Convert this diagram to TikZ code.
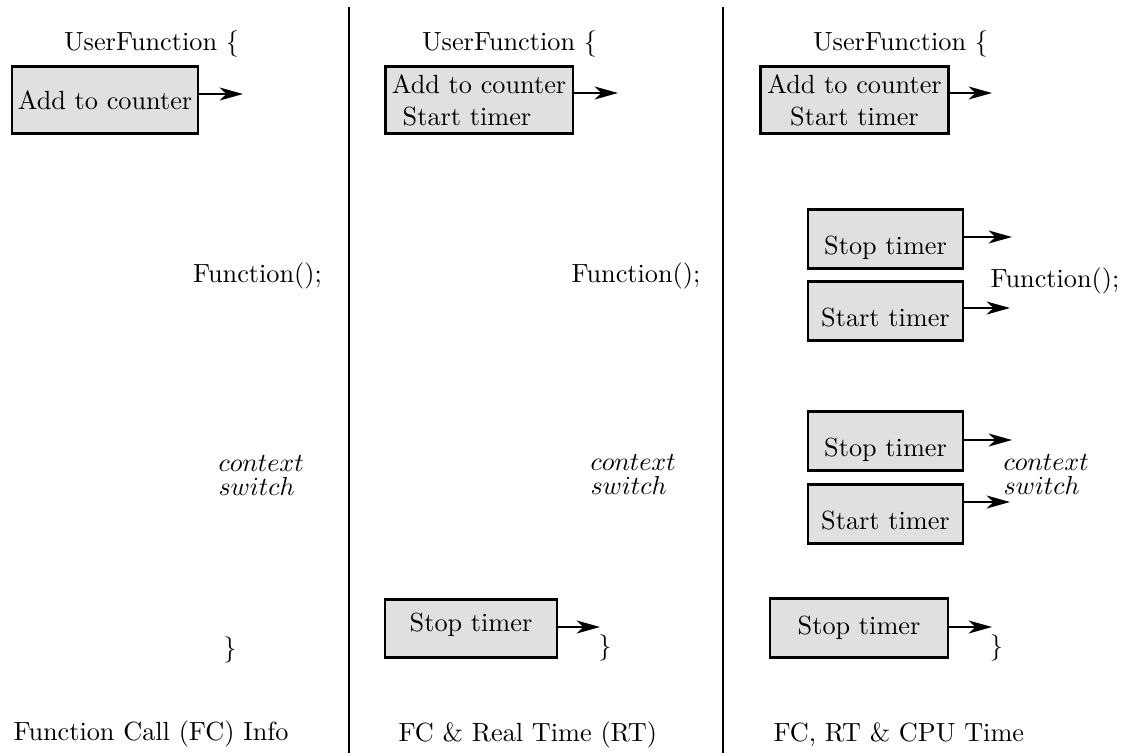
\documentclass[tikz,border=0pt]{standalone}
\usetikzlibrary{arrows.meta}
\begin{document}
\begin{tikzpicture}[x=0.3846pt, y=-0.3846pt,
  every node/.style={font=\fontsize{10.1}{12}\selectfont},
  box/.style={draw, line width=1.05pt, fill=black!12, inner xsep=0pt, inner ysep=0pt},
  topbox/.style={box, text height=22.9pt, text depth=2.9pt, minimum width=72.2pt, anchor=north},
  midbox/.style={box, text height=17.3pt, text depth=5.4pt, minimum width=59.7pt, anchor=north},
  arr/.style={line width=0.7pt, -{Stealth[length=9pt,width=5pt,inset=2.6pt]}},
  sep/.style={line width=0.8pt},
  txt/.style={inner sep=0pt, anchor=base},
  txtw/.style={inner sep=0pt, anchor=base west},
  cs/.style={inner sep=0pt, anchor=base west, align=left},
]
\useasboundingbox (0,0) rectangle (1124,753);

% column separators
\draw[sep] (349,7) -- (349,753);
\draw[sep] (723,7) -- (723,753);

% ---- column 1: function call count only
\node[txt] (uf1) at (151.5,51) {UserFunction \{};
\node[box, text height=16.6pt, text depth=9.2pt, minimum width=71.6pt, anchor=north] (a1) at (105,65) {Add to counter};
\coordinate (A1) at (243,94);
\draw[arr] (a1.east |- A1) -- (A1);
\node[txt] (fn1) at (257.5,282) {Function();};
\node[cs] (cs1) at (218,495) {$context$\\[-2.8pt]$switch$};
\node[txt] (br1) at (230,656) {\}};
\node[txtw] (lab1) at (13,740) {Function Call (FC) Info};

% ---- column 2: count and real time
\node[txt] (uf2) at (509.5,51) {UserFunction \{};
\node[topbox, align=left] (b1) at (479,65) {Add to counter\\[0.4pt]\hspace{4.2pt}Start timer};
\coordinate (B1) at (618,93);
\draw[arr] (b1.east |- B1) -- (B1);
\node[txt] (fn2) at (636,282) {Function();};
\node[cs] (cs2) at (590,494) {$context$\\[-2.8pt]$switch$};
\node[box, text height=12.3pt, text depth=10pt, minimum width=66.2pt, anchor=north] (b2) at (471,598) {Stop timer};
\coordinate (B2) at (600,627);
\draw[arr] (b2.east |- B2) -- (B2);
\node[txt] (br2) at (605,654) {\}};
\node[txtw] (lab2) at (398,741) {FC \& Real Time (RT)};

% ---- column 3: count, real time and CPU time
\node[txt] (uf3) at (900.5,51) {UserFunction \{};
\node[topbox, align=center] (c1) at (854.5,65) {Add to counter\\[0.4pt]Start timer};
\coordinate (C1) at (992,93);
\draw[arr] (c1.east |- C1) -- (C1);

\node[midbox] (c2) at (885.5,208) {Stop timer};
\coordinate (C2) at (1012,237);
\draw[arr] (c2.east |- C2) -- (C2);
\node[midbox] (c3) at (885.5,280) {Start timer};
\coordinate (C3) at (1010,308);
\draw[arr] (c3.east |- C3) -- (C3);
\node[txt] (fn3) at (1055,287) {Function();};

\node[midbox] (c4) at (885.5,410) {Stop timer};
\coordinate (C4) at (1012,440);
\draw[arr] (c4.east |- C4) -- (C4);
\node[midbox] (c5) at (885.5,483) {Start timer};
\coordinate (C5) at (1010,502);
\draw[arr] (c5.east |- C5) -- (C5);
\node[cs] (cs3) at (1003,494) {$context$\\[-2.8pt]$switch$};

\node[box, text height=13.9pt, text depth=8.9pt, minimum width=68.5pt, anchor=north] (c6) at (859,597) {Stop timer};
\coordinate (C6) at (992,627);
\draw[arr] (c6.east |- C6) -- (C6);
\node[txt] (br3) at (996.5,654) {\}};
\node[txtw] (lab3) at (773,741) {FC, RT \& CPU Time};
\end{tikzpicture}
\end{document}
